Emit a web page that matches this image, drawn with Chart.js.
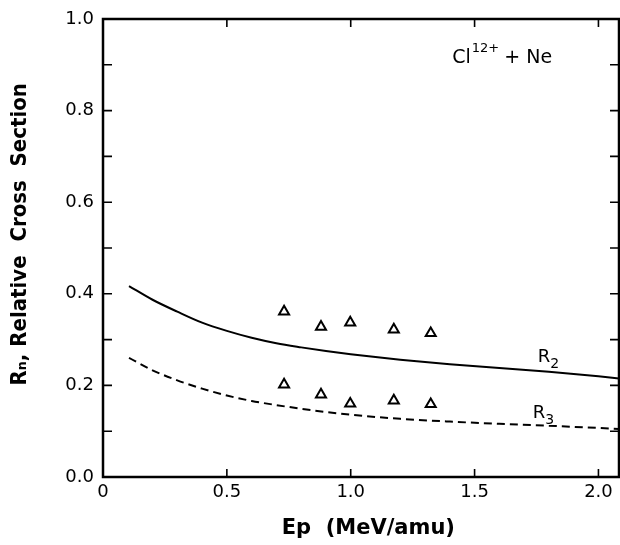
<!DOCTYPE html>
<html>
<head>
<meta charset="utf-8">
<script src="https://cdn.jsdelivr.net/npm/chart.js@4/dist/chart.umd.min.js"></script>
<style>
  html, body { margin: 0; padding: 0; background: #fff; }
</style>
</head>
<body>
<canvas id="myChart" width="620" height="545"></canvas>
<script>
// calculated curves
const energyFit = [0.105, 0.2, 0.3, 0.4, 0.5, 0.6, 0.7, 0.8, 0.9, 1.0, 1.2, 1.4, 1.6, 1.8, 2.0, 2.083];
const r2Fit = [0.417, 0.387, 0.361, 0.337, 0.319, 0.304, 0.292, 0.283, 0.275, 0.268, 0.256, 0.246, 0.238, 0.230, 0.220, 0.215];
const r3Fit = [0.260, 0.233, 0.211, 0.193, 0.178, 0.166, 0.157, 0.149, 0.142, 0.136, 0.127, 0.121, 0.116, 0.112, 0.107, 0.105];

// measured points (triangles)
const energyData = [0.731, 0.880, 0.998, 1.174, 1.323];
const r2Data = [0.361, 0.328, 0.337, 0.322, 0.314];
const r3Data = [0.202, 0.180, 0.160, 0.167, 0.159];

// leading spaces nudge the titles to where the original lettering sits
const xTitle = '  Ep  (MeV/amu)';
const yTitle = '    Rₙ, Relative  Cross  Section';

const toPoints = (xs, ys) => xs.map((v, i) => ({x: v, y: ys[i]}));

const labelFont = '"DejaVu Sans", sans-serif';

// inward ticks, frame and text labels inside the plot
const framePlugin = {
  id: 'frame',
  afterDraw(chart) {
    const {ctx, chartArea: a, scales: {x, y}} = chart;
    ctx.save();
    ctx.strokeStyle = '#000';
    ctx.lineWidth = 1.6;
    ctx.beginPath();
    for (const t of y.ticks) {
      const py = y.getPixelForValue(t.value);
      ctx.moveTo(a.left, py); ctx.lineTo(a.left + 9, py);
      ctx.moveTo(a.right, py); ctx.lineTo(a.right - 9, py);
    }
    for (const t of x.ticks) {
      const px = x.getPixelForValue(t.value);
      ctx.moveTo(px, a.bottom); ctx.lineTo(px, a.bottom - 8);
      ctx.moveTo(px, a.top); ctx.lineTo(px, a.top + 8);
    }
    ctx.stroke();
    ctx.lineWidth = 2.5;
    ctx.strokeRect(a.left, a.top, a.right - a.left, a.bottom - a.top);

    ctx.fillStyle = '#000';
    ctx.textBaseline = 'alphabetic';
    ctx.textAlign = 'left';

    // Cl12+ + Ne
    let px = x.getPixelForValue(1.41);
    let py = y.getPixelForValue(0.904);
    ctx.font = '19px ' + labelFont;
    ctx.fillText('Cl', px, py);
    px += ctx.measureText('Cl').width + 1;
    ctx.font = '13px ' + labelFont;
    ctx.fillText('12+', px, py - 11);
    px += ctx.measureText('12+').width + 5;
    ctx.font = '19px ' + labelFont;
    ctx.fillText('+ Ne', px, py);

    // R2 and R3
    const curveLabel = (xv, yv, sub) => {
      let lx = x.getPixelForValue(xv);
      const ly = y.getPixelForValue(yv);
      ctx.font = '18px ' + labelFont;
      ctx.fillText('R', lx, ly);
      lx += ctx.measureText('R').width;
      ctx.font = '14px ' + labelFont;
      ctx.fillText(sub, lx, ly + 6);
    };
    curveLabel(1.755, 0.251, '2');
    curveLabel(1.735, 0.129, '3');
    ctx.restore();
  }
};

new Chart(document.getElementById('myChart'), {
  type: 'scatter',
  data: {
    datasets: [
      {
        label: 'R2 calc',
        data: toPoints(energyFit, r2Fit),
        showLine: true,
        borderColor: '#000',
        borderWidth: 2,
        pointRadius: 0,
        cubicInterpolationMode: 'monotone'
      },
      {
        label: 'R3 calc',
        data: toPoints(energyFit, r3Fit),
        showLine: true,
        borderColor: '#000',
        borderWidth: 2,
        borderDash: [8, 5],
        pointRadius: 0,
        cubicInterpolationMode: 'monotone'
      },
      {
        label: 'R2 exp',
        data: toPoints(energyData, r2Data),
        pointStyle: 'triangle',
        pointRadius: 5.8,
        pointBorderWidth: 2,
        borderColor: '#000',
        backgroundColor: '#fff'
      },
      {
        label: 'R3 exp',
        data: toPoints(energyData, r3Data),
        pointStyle: 'triangle',
        pointRadius: 5.8,
        pointBorderWidth: 2,
        borderColor: '#000',
        backgroundColor: '#fff'
      }
    ]
  },
  options: {
    responsive: false,
    animation: false,
    layout: { autoPadding: false, padding: { top: 19, right: 1, left: 0, bottom: 0 } },
    plugins: {
      legend: { display: false },
      tooltip: { enabled: false }
    },
    scales: {
      x: {
        type: 'linear',
        min: 0,
        max: 2.083,
        afterFit: (s) => { s.height = 68; s.paddingLeft = 0; s.paddingRight = 0; },
        grid: { display: false, drawTicks: false },
        border: { display: false },
        ticks: {
          stepSize: 0.5,
          includeBounds: false,
          padding: 5,
          color: '#000',
          font: { family: 'DejaVu Sans', size: 18 },
          maxRotation: 0,
          callback: (v) => (v === 0 ? '0' : v.toFixed(1))
        },
        title: {
          display: true,
          text: xTitle,
          color: '#000',
          font: { family: 'DejaVu Sans', size: 21, weight: 'bold' },
          padding: { top: 0, bottom: 4 }
        }
      },
      y: {
        min: 0,
        max: 1,
        afterFit: (s) => { s.width = 103; s.paddingTop = 0; s.paddingBottom = 0; },
        grid: { display: false, drawTicks: false },
        border: { display: false },
        ticks: {
          stepSize: 0.1,
          padding: 9,
          color: '#000',
          font: { family: 'DejaVu Sans', size: 18 },
          callback: (v) => (Math.round(v * 10) % 2 === 0 ? v.toFixed(1) : '')
        },
        title: {
          display: true,
          text: yTitle,
          color: '#000',
          font: { family: '"DejaVu Sans Condensed", "DejaVu Sans", sans-serif', size: 22, weight: 'bold' },
          padding: { top: 7, bottom: 0 }
        }
      }
    }
  },
  plugins: [framePlugin]
});
</script>
</body>
</html>
